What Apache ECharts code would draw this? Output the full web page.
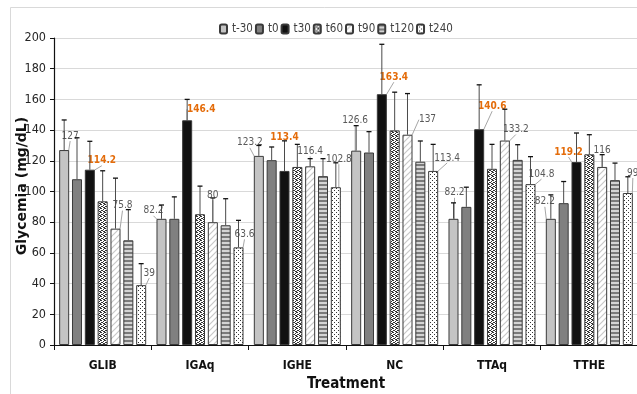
<!DOCTYPE html>
<html>
<head>
<meta charset="utf-8">
<script src="https://cdn.jsdelivr.net/npm/echarts@6/dist/echarts.min.js"></script>
<style>html,body{margin:0;padding:0;background:#fff;}#c{width:637px;height:394px;}</style>
</head>
<body>
<div id="c"></div>
<script>
// ---- data ----
const categories = ['GLIB', 'IGAq', 'IGHE', 'NC', 'TTAq', 'TTHE'];
const seriesNames = ['t-30', 't0', 't30', 't60', 't90', 't120', 't240'];
const vT_30 = [127, 82.2, 123.2, 126.6, 82.2, 82.2];
const vT0   = [108, 82.2, 120.4, 125.4, 90, 92.4];
const vT30  = [114.2, 146.4, 113.4, 163.4, 140.6, 119.2];
const vT60  = [93.6, 85.2, 116, 139.8, 114.8, 124.2];
const vT90  = [75.8, 80, 116.4, 137, 133.2, 116];
const vT120 = [68.2, 78, 110, 119.4, 120.6, 107.4];
const vT240 = [39, 63.6, 102.8, 113.4, 104.8, 99];
// standard deviations (error bar heights)
const sdT_30 = [19.6, 9, 6.8, 16.3, 10.4, 15.6];
const sdT0   = [27, 14.3, 8.6, 13.6, 12.8, 14.1];
const sdT30  = [18.5, 13.6, 19.6, 32.5, 28.9, 18.9];
const sdT60  = [19.9, 18.3, 14.7, 24.9, 15.9, 12.8];
const sdT90  = [32.9, 15.8, 5, 26.8, 20.4, 8];
const sdT120 = [20, 17.3, 11.4, 13.5, 9.9, 11.1];
const sdT240 = [14, 17.6, 15.9, 17.3, 17.9, 10.6];
const yTicks = [0, 20, 40, 60, 80, 100, 120, 140, 160, 180, 200];

const values = [vT_30, vT0, vT30, vT60, vT90, vT120, vT240];
const sds = [sdT_30, sdT0, sdT30, sdT60, sdT90, sdT120, sdT240];
const labelledSeries = [0, 2, 4, 6];

// ---- layout/style (not data) ----
const labelOffsets = {
  0: [[6,-14],[-8,-8],[-9,-13],[-1,-30],[1,-26],[-6,-17]],
  2: [[12,-9],[14,-11],[0,-34],[12,-17],[13,-23],[-8,-10]],
  4: [[7,-23],[0,-27],[0,-15],[20,-15],[11,-11],[0,-17]],
  6: [[8,-12],[6,-13],[3,-28],[14,-13],[11,-10],[5,-20]]
};
const NARROW = "'Liberation Sans Narrow','DejaVu Sans Condensed','Arial Narrow',sans-serif";

function pat(w, h, draw) {
  const c = document.createElement('canvas');
  c.width = w; c.height = h;
  const g = c.getContext('2d');
  g.fillStyle = '#fff'; g.fillRect(0, 0, w, h);
  draw(g);
  return { image: c, repeat: 'repeat' };
}
const fills = [
  '#c4c4c4',
  '#808080',
  '#111111',
  pat(4, 4, g => {
    g.fillStyle = '#333';
    [[0,0],[1,0],[3,1],[1,2],[2,2],[0,3],[3,3]].forEach(p => g.fillRect(p[0], p[1], 1, 1));
  }),
  pat(6, 6, g => {
    g.strokeStyle = '#c8c8c8'; g.lineWidth = 1.2;
    g.beginPath();
    g.moveTo(-1, 7); g.lineTo(7, -1);
    g.moveTo(-1, 1); g.lineTo(1, -1);
    g.moveTo(5, 7); g.lineTo(7, 5);
    g.stroke();
  }),
  pat(1, 4, g => {
    g.fillStyle = '#7a7a7a'; g.fillRect(0, 0, 1, 2);
    g.fillStyle = '#d4d4d4'; g.fillRect(0, 2, 1, 2);
  }),
  pat(4, 4, g => {
    g.fillStyle = '#333';
    g.fillRect(0, 0, 1, 1); g.fillRect(2, 2, 1, 1);
  })
];

const BAR_W = 0.103, GAP = 0.28;

const barSeries = seriesNames.map((name, s) => ({
  name: name,
  type: 'bar',
  barWidth: (BAR_W * 100) + '%',
  barGap: (GAP * 100) + '%',
  itemStyle: { color: fills[s], borderColor: '#3a3a3a', borderWidth: 1 },
  emphasis: { disabled: true },
  label: {
    show: labelledSeries.indexOf(s) >= 0,
    position: 'top',
    distance: 0,
    fontFamily: NARROW,
    fontSize: 10,
    color: s === 2 ? '#E46C0A' : '#595959',
    fontWeight: s === 2 ? 'bold' : 'normal'
  },
  labelLine: { show: true, lineStyle: { color: '#a6a6a6', width: 1 } },
  labelLayout: function (p) {
    const o = labelOffsets[s] ? labelOffsets[s][p.dataIndex] : null;
    if (!o) return {};
    return {
      x: p.rect.x + p.rect.width / 2 + o[0],
      y: p.rect.y + o[1],
      align: 'center',
      verticalAlign: 'middle'
    };
  },
  z: 2,
  data: values[s]
}));

const errData = [];
seriesNames.forEach((n, s) => {
  categories.forEach((c, i) => errData.push([i, s, values[s][i], sds[s][i]]));
});

const errSeries = {
  type: 'custom',
  name: 'err',
  z: 3,
  silent: true,
  encode: { x: 0, y: 2 },
  data: errData,
  renderItem: function (params, api) {
    const c = api.value(0), s = api.value(1), v = api.value(2), sd = api.value(3);
    const bw = api.size([1, 0])[0];
    const barW = bw * BAR_W;
    const step = barW * (1 + GAP);
    const cx = api.coord([c, 0])[0] + (s - 3) * step;
    const y1 = api.coord([c, v])[1];
    const y2 = api.coord([c, v + sd])[1];
    return {
      type: 'group',
      children: [
        { type: 'line', shape: { x1: cx, y1: y1, x2: cx, y2: y2 }, style: { stroke: '#4a4a4a', lineWidth: 1 } },
        { type: 'line', shape: { x1: cx - 2.5, y1: y2, x2: cx + 2.5, y2: y2 }, style: { stroke: '#111', lineWidth: 1.3 } }
      ]
    };
  }
};

const chart = echarts.init(document.getElementById('c'), null, { renderer: 'canvas' });
chart.setOption({
  animation: false,
  backgroundColor: '#fff',
  legend: {
    data: seriesNames,
    left: 214,
    top: 18,
    itemWidth: 7,
    itemHeight: 9,
    itemGap: 2,
    selectedMode: false,
    textStyle: { fontFamily: NARROW, fontSize: 11.5, color: '#404040' }
  },
  grid: { left: 54, top: 38, width: 584, height: 307, outerBoundsMode: 'none', containLabel: false },
  xAxis: {
    type: 'category',
    data: categories,
    name: 'Treatment',
    nameLocation: 'middle',
    nameGap: 31,
    nameTextStyle: { fontFamily: NARROW, fontSize: 15, fontWeight: 'bold', color: '#111' },
    axisLine: { lineStyle: { color: '#111', width: 1.2 } },
    axisTick: { show: true, length: 5, lineStyle: { color: '#111' } },
    axisLabel: { fontFamily: NARROW, fontSize: 12, fontWeight: 'bold', color: '#111', margin: 15 },
    splitLine: { show: false }
  },
  yAxis: {
    type: 'value',
    min: yTicks[0],
    max: yTicks[yTicks.length - 1],
    interval: yTicks[1] - yTicks[0],
    axisLine: { show: true, lineStyle: { color: '#111', width: 1.2 } },
    axisTick: { show: true, length: 4, lineStyle: { color: '#111' } },
    axisLabel: { fontFamily: NARROW, fontSize: 12.5, color: '#262626', margin: 8 },
    splitLine: { lineStyle: { color: '#d9d9d9', width: 1 } }
  },
  graphic: [
    {
      type: 'rect', z: -10, silent: true,
      shape: { x: 10.5, y: 7.5, width: 700, height: 500 },
      style: { fill: 'none', stroke: '#d9d9d9', lineWidth: 1 }
    },
    {
      type: 'text', z: 10, silent: true,
      x: 22, y: 186, rotation: Math.PI / 2,
      style: {
        text: 'Glycemia (mg/dL)',
        font: "bold 14px 'DejaVu Sans', sans-serif",
        fill: '#111', align: 'center', verticalAlign: 'middle'
      }
    }
  ],
  series: barSeries.concat([errSeries])
});
</script>
</body>
</html>
